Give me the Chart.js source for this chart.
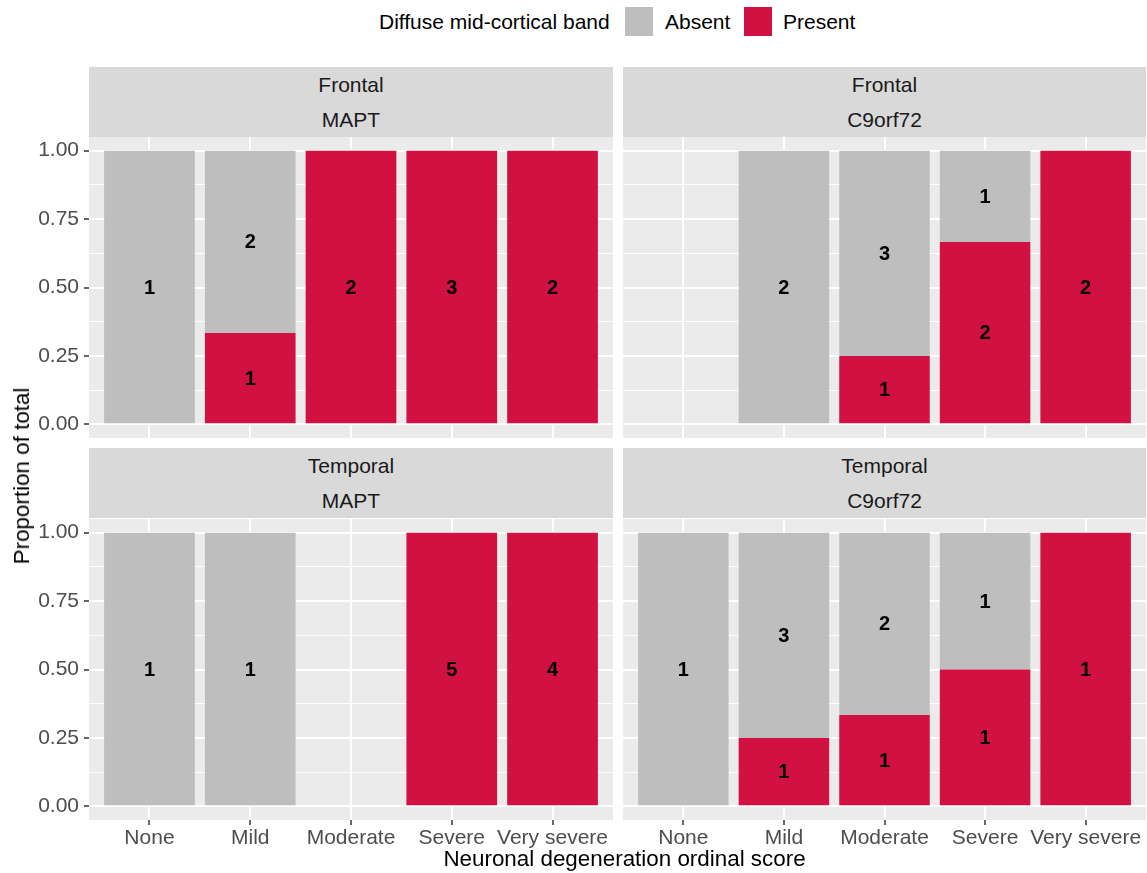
<!DOCTYPE html>
<html>
<head>
<meta charset="utf-8">
<script src="https://cdn.jsdelivr.net/npm/chart.js@4/dist/chart.umd.min.js"></script>
<style>
  html, body { margin: 0; padding: 0; background: #ffffff; }
  body { width: 1147px; height: 873px; position: relative; overflow: hidden;
         font-family: "Liberation Sans", Arial, sans-serif; }
  .abs { position: absolute; }
  .strip { position: absolute; background: #D9D9D9; color: #1A1A1A; font-size: 21px;
           text-align: center; height: 35px; line-height: 35px; }
  .lgtext { position: absolute; font-size: 21px; color: #000; line-height: 30px; white-space: nowrap; }
  .key { position: absolute; width: 28px; height: 29px; }
  canvas { position: absolute; }
</style>
</head>
<body>
<!-- legend -->
<div class="lgtext" style="left:379px; top:7px;">Diffuse mid-cortical band</div>
<div class="key" style="left:625px; top:7px; background:#BEBEBE;"></div>
<div class="lgtext" style="left:665px; top:7px;">Absent</div>
<div class="key" style="left:744px; top:7px; background:#D11141;"></div>
<div class="lgtext" style="left:783px; top:7px;">Present</div>

<!-- strips -->
<div class="strip" style="left:89px; width:524px; top:67px;">Frontal</div>
<div class="strip" style="left:89px; width:524px; top:102px;">MAPT</div>
<div class="strip" style="left:623px; width:523px; top:67px;">Frontal</div>
<div class="strip" style="left:623px; width:523px; top:102px;">C9orf72</div>
<div class="strip" style="left:89px; width:524px; top:448px;">Temporal</div>
<div class="strip" style="left:89px; width:524px; top:483px;">MAPT</div>
<div class="strip" style="left:623px; width:523px; top:448px;">Temporal</div>
<div class="strip" style="left:623px; width:523px; top:483px;">C9orf72</div>

<canvas id="c1" width="613" height="301" style="left:0px; top:137px;"></canvas>
<canvas id="c2" width="523" height="301" style="left:623px; top:137px;"></canvas>
<canvas id="c3" width="613" height="341" style="left:0px; top:519px;"></canvas>
<canvas id="c4" width="523" height="341" style="left:623px; top:519px;"></canvas>

<!-- axis titles -->
<div class="abs" style="left:96px; width:1057px; top:846px; text-align:center; font-size:22.4px; color:#000; line-height:26px;">Neuronal degeneration ordinal score</div>
<div class="abs" style="left:22px; top:476px; width:0; height:0;">
  <div style="position:absolute; transform: translate(-50%,-50%) rotate(-90deg); white-space:nowrap; font-size:22.4px; color:#000; line-height:26px;">Proportion of total</div>
</div>

<script>
// ---------------- data ----------------
const categories = ['None', 'Mild', 'Moderate', 'Severe', 'Very severe'];

const frontalMaptAbsent   = [1, 2, 0, 0, 0];
const frontalMaptPresent  = [0, 1, 2, 3, 2];
const frontalC9Absent     = [0, 2, 3, 1, 0];
const frontalC9Present    = [0, 0, 1, 2, 2];
const temporalMaptAbsent  = [1, 1, 0, 0, 0];
const temporalMaptPresent = [0, 0, 0, 5, 4];
const temporalC9Absent    = [1, 3, 2, 1, 0];
const temporalC9Present   = [0, 1, 1, 1, 1];

const yMajorTicks = [0, 0.25, 0.5, 0.75, 1];
const yMinorTicks = [0.125, 0.375, 0.625, 0.875];

// ---------------- style ----------------
const GRAY = '#BEBEBE';
const RED = '#D11141';
const FONT = '"Liberation Sans", Arial, sans-serif';
Chart.defaults.font.family = FONT;

const panelBg = {
  id: 'panelBg',
  beforeDraw(chart) {
    const a = chart.chartArea, ctx = chart.ctx;
    ctx.save();
    ctx.fillStyle = '#EBEBEB';
    ctx.fillRect(a.left, a.top, a.right - a.left, a.bottom - a.top);
    ctx.restore();
  }
};

const countLabels = {
  id: 'countLabels',
  afterDatasetsDraw(chart) {
    const ctx = chart.ctx;
    ctx.save();
    ctx.font = 'bold 20px ' + FONT;
    ctx.fillStyle = '#000';
    ctx.textAlign = 'center';
    ctx.textBaseline = 'middle';
    chart.data.datasets.forEach((ds, di) => {
      const meta = chart.getDatasetMeta(di);
      meta.data.forEach((el, i) => {
        const n = ds.counts[i];
        if (!n) return;
        const p = el.getProps(['x', 'y', 'base'], true);
        ctx.fillText(String(n), p.x, (p.y + p.base) / 2 + 1);
      });
    });
    ctx.restore();
  }
};

function proportions(part, a, b) {
  return categories.map((c, i) => {
    const tot = a[i] + b[i];
    return { x: i + 1, y: tot ? part[i] / tot : null };
  });
}

function makePanel(id, absent, present, showX, showY) {
  const isMajor = v => yMajorTicks.some(t => Math.abs(t - v) < 1e-9);
  new Chart(document.getElementById(id), {
    type: 'bar',
    data: {
      datasets: [
        { label: 'Present', data: proportions(present, absent, present), counts: present,
          backgroundColor: RED, borderWidth: 0 },
        { label: 'Absent', data: proportions(absent, absent, present), counts: absent,
          backgroundColor: GRAY, borderWidth: 0 }
      ]
    },
    options: {
      responsive: false,
      animation: false,
      events: [],
      layout: { padding: 0 },
      plugins: { legend: { display: false }, tooltip: { enabled: false } },
      datasets: { bar: { barPercentage: 0.9, categoryPercentage: 1 } },
      scales: {
        x: {
          type: 'linear', stacked: true, bounds: 'data', min: 0.4, max: 5.6, offset: false,
          afterBuildTicks: s => { s.ticks = categories.map((c, i) => ({ value: i + 1 })); },
          afterFit: s => { s.height = showX ? 40 : 0; s.paddingLeft = 0; s.paddingRight = 0; },
          ticks: { display: showX, autoSkip: false, maxRotation: 0, padding: 1,
                   color: '#4D4D4D', font: { size: 21 },
                   callback: v => categories[Math.round(v) - 1] },
          grid: { offset: false, color: '#FFFFFF', lineWidth: 2, drawTicks: showX, tickLength: 5,
                  tickColor: '#333333', tickWidth: 1.5 },
          border: { display: false }
        },
        y: {
          type: 'linear', stacked: true, bounds: 'data', min: -0.05, max: 1.05,
          afterBuildTicks: s => {
            s.ticks = yMajorTicks.concat(yMinorTicks).sort((a, b) => a - b).map(v => ({ value: v }));
          },
          afterFit: s => { s.width = showY ? 89 : 0; s.paddingTop = 0; s.paddingBottom = 0; },
          ticks: { display: showY, autoSkip: false, padding: 5, color: '#4D4D4D', font: { size: 21 },
                   callback: v => isMajor(v) ? v.toFixed(2) : '' },
          grid: { color: '#FFFFFF',
                  lineWidth: c => (c.tick && isMajor(c.tick.value)) ? 2 : 1,
                  drawTicks: showY, tickLength: 5,
                  tickColor: c => (c.tick && isMajor(c.tick.value)) ? '#333333' : 'rgba(0,0,0,0)',
                  tickWidth: 1.5 },
          border: { display: false }
        }
      }
    },
    plugins: [panelBg, countLabels]
  });
}

makePanel('c1', frontalMaptAbsent, frontalMaptPresent, false, true);
makePanel('c2', frontalC9Absent, frontalC9Present, false, false);
makePanel('c3', temporalMaptAbsent, temporalMaptPresent, true, true);
makePanel('c4', temporalC9Absent, temporalC9Present, true, false);
</script>
</body>
</html>
